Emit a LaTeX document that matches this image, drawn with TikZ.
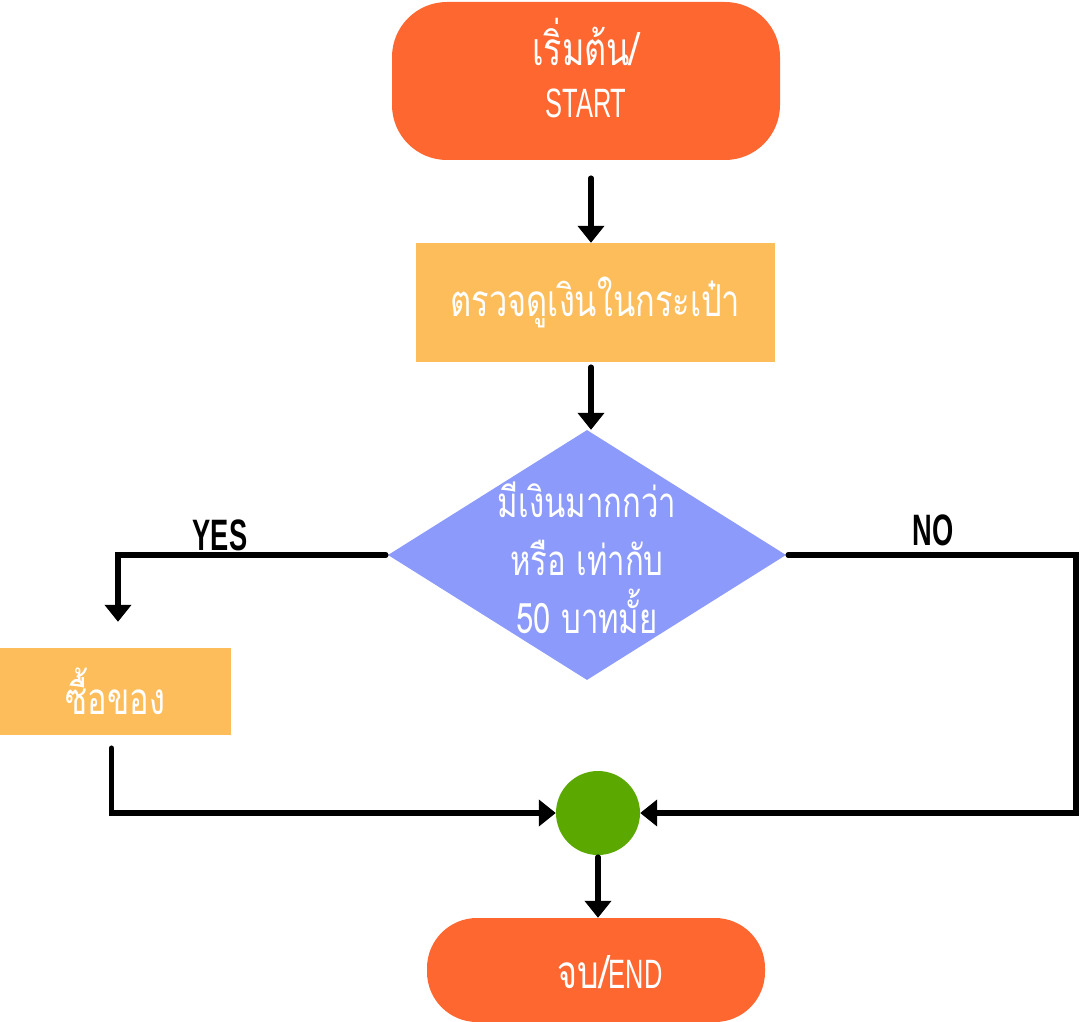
\documentclass[tikz,border=0pt]{standalone}
\usepackage{fontspec}
\usetikzlibrary{arrows.meta,shapes.geometric}
\newfontfamily\thaifont[Script=Thai,FakeStretch=0.74]{Loma}
\newfontfamily\condfont[FakeStretch=0.62]{Liberation Sans}
\newfontfamily\condbold[FakeStretch=0.62]{Liberation Sans Bold}
\definecolor{termorange}{HTML}{FF6730}
\definecolor{procyellow}{HTML}{FDBD5B}
\definecolor{decblue}{HTML}{8C9AFC}
\definecolor{mergegreen}{HTML}{5AA800}
\tikzset{
  terminal/.style={fill=termorange, text=white, rounded corners=55pt, inner sep=0pt, align=center},
  procbox/.style={fill=procyellow, text=white, inner sep=0pt, align=center},
  decbox/.style={diamond, fill=decblue, inner sep=0pt, aspect=1.6},
  flow/.style={line width=5.5pt, line cap=round, -{Triangle[width=26pt,length=17pt]}},
  lbl/.style={inner sep=0pt, text=black}
}
\begin{document}
\begin{tikzpicture}[x=1pt,y=-1pt]
\useasboundingbox (0,0) rectangle (1080,1022);
% nodes
\node[terminal, minimum width=388pt, minimum height=158pt] (start) at (586,81) {};
\node[inner sep=0pt, text=white, align=center, font=\fontsize{44}{52}\selectfont] (starttxt) at (586,68) {{\thaifont\fontsize{46}{52}\selectfont เริ่มต้น/}\\{\condfont\fontsize{41}{52}\selectfont START}};
\node[procbox, minimum width=359pt, minimum height=119pt] (check) at (595.5,302.5) {\thaifont\fontsize{44}{50}\selectfont ตรวจดูเงินในกระเป๋า};
\node[decbox, minimum width=398pt, minimum height=250pt] (dec) at (587,555) {};
\node[inner sep=0pt, text=white, align=center, font=\thaifont\fontsize{42}{58}\selectfont] (dectxt) at (587,558) {มีเงินมากกว่า\\ หรือ เท่ากับ\\ 50 บาทมั้ย};
\node[procbox, minimum width=231pt, minimum height=87pt] (buy) at (115.5,691.5) {\thaifont\fontsize{44}{50}\selectfont ซื้อของ};
\node[circle, fill=mergegreen, minimum size=84pt, inner sep=0pt] (merge) at (598,813) {};
\node[terminal, rounded corners=50pt, minimum width=338pt, minimum height=104pt] (end) at (596,970) {};
\node[inner sep=0pt, text=white] (endtxt) at (610,972) {\thaifont\fontsize{46}{50}\selectfont จบ/\condfont\fontsize{41}{44}\selectfont END};
% labels
\node[lbl] (yes) at (220,535) {\condbold\fontsize{44}{44}\selectfont YES};
\node[lbl] (no) at (933,530) {\condbold\fontsize{44}{44}\selectfont NO};
% connectors
\draw[flow, shorten <=18pt] ([xshift=-4.5pt]check.north |- start.south) -- ([xshift=-4.5pt]check.north);
\draw[flow, shorten <=5pt] ([xshift=-4.5pt]check.south) -- ([xshift=-4.5pt]check.south |- dec.north);
\draw[flow, shorten <=2pt] (dec.west) -| ([xshift=2.5pt,yshift=26pt]buy.north);
\draw[flow] ([xshift=-4pt,yshift=-13pt]buy.south) |- (merge.west);
\draw[flow, shorten <=2pt] (dec.east) -- ++(290,0) |- (merge.east);
\draw[flow, shorten <=2pt] (merge.south) -- (merge.south |- end.north);
\end{tikzpicture}
\end{document}
